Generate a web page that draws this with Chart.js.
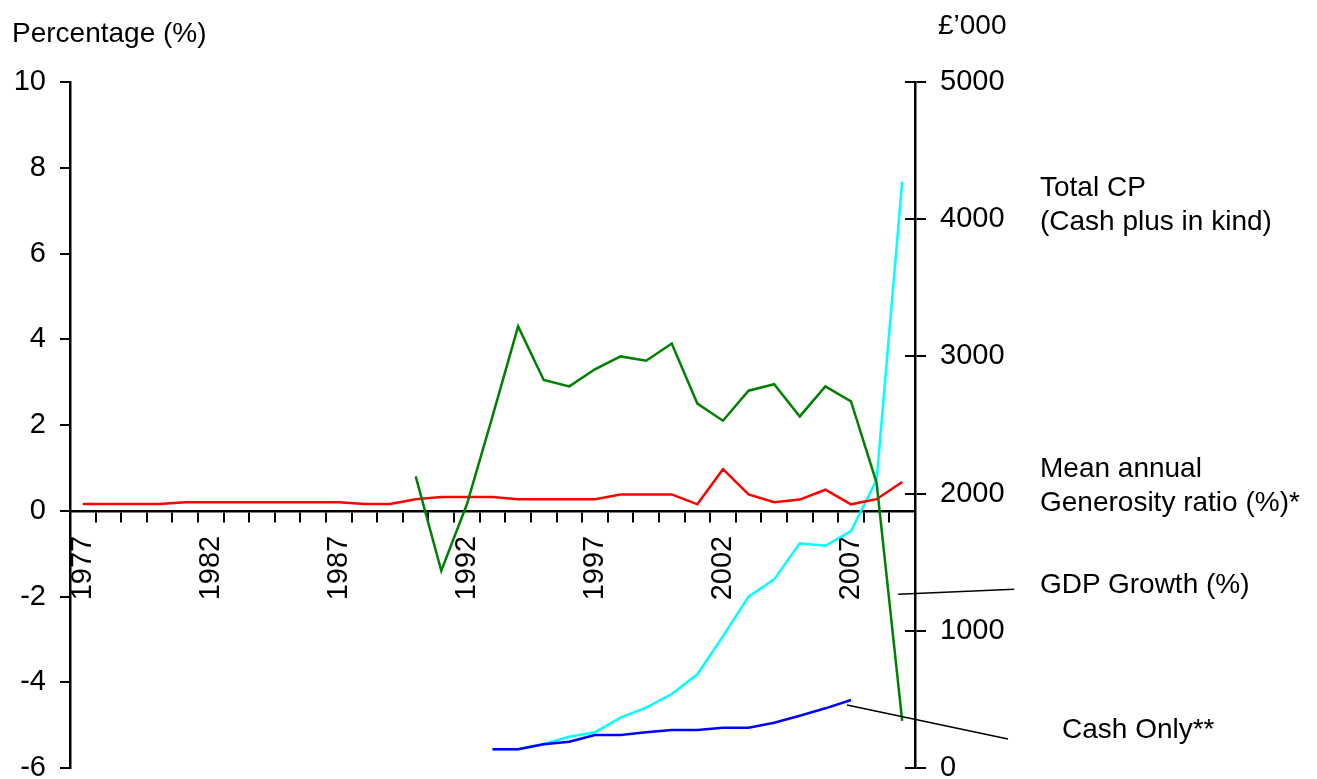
<!DOCTYPE html>
<html>
<head>
<meta charset="utf-8">
<script src="https://cdn.jsdelivr.net/npm/chart.js@4"></script>
<style>
	body { margin: 0; background: #fff; }
	.wrap { position: relative; width: 1317px; height: 779px; }
	.note {
		position: absolute;
		font-family: 'Liberation Sans', Arial, sans-serif;
		font-size: 28px;
		line-height: 34px;
		color: #000;
		white-space: nowrap;
	}
</style>
</head>
<body>
<div class="wrap">
	<canvas id="chart" width="1317" height="779"></canvas>
	<div class="note" style="left:12px; top:16px;">Percentage (%)</div>
	<div class="note" style="left:938px; top:8px;">£’000</div>
	<div class="note" style="left:1040px; top:170px;">Total CP<br>(Cash plus in kind)</div>
	<div class="note" style="left:1040px; top:451px;">Mean annual<br>Generosity ratio (%)*</div>
	<div class="note" style="left:1040px; top:567px;">GDP Growth (%)</div>
	<div class="note" style="left:1062px; top:712px;">Cash Only**</div>
</div>
<script>
const years = ['1977', '1978', '1979', '1980', '1981', '1982', '1983', '1984', '1985', '1986', '1987',
	'1988', '1989', '1990', '1991', '1992', '1993', '1994', '1995', '1996', '1997', '1998', '1999',
	'2000', '2001', '2002', '2003', '2004', '2005', '2006', '2007', '2008', '2009'];
const yearLabels = ['1977', '1982', '1987', '1992', '1997', '2002', '2007'];

// left axis (%)
const generosity = [0.16, 0.16, 0.16, 0.16, 0.2, 0.2, 0.2, 0.2, 0.2, 0.2, 0.2,
	0.16, 0.16, 0.27, 0.32, 0.32, 0.32, 0.27, 0.27, 0.27, 0.27, 0.38, 0.38,
	0.38, 0.15, 0.97, 0.38, 0.2, 0.26, 0.49, 0.15, 0.27, 0.67];
const gdpGrowth = [null, null, null, null, null, null, null, null, null, null, null,
	null, null, 0.8, -1.4, 0.15, 2.2, 4.3, 3.05, 2.9, 3.3, 3.6, 3.5,
	3.9, 2.5, 2.1, 2.8, 2.95, 2.2, 2.9, 2.55, 0.65, -4.9];

// right axis (£'000)
const totalCP = [null, null, null, null, null, null, null, null, null, null, null,
	null, null, null, null, null, 136, 136, 175, 228, 260, 367, 440,
	539, 683, 960, 1249, 1375, 1638, 1620, 1727, 2100, 4274];
const cashOnly = [null, null, null, null, null, null, null, null, null, null, null,
	null, null, null, null, null, 136, 136, 173, 192, 240, 240, 260,
	277, 277, 294, 294, 330, 381, 435, 496, null, null];

const font = { family: "'Liberation Sans', Arial, sans-serif", size: 29 };

// inward half of the right axis ticks + the two leader lines
const extras = {
	id: 'extras',
	afterDraw(chart) {
		const ctx = chart.ctx;
		const x = chart.scales.x;
		const yl = chart.scales.y;
		const yr = chart.scales.y2;
		ctx.save();
		ctx.strokeStyle = '#000';
		ctx.lineWidth = 2;
		ctx.beginPath();
		yr.ticks.forEach((t) => {
			const py = Math.round(yr.getPixelForValue(t.value));
			ctx.moveTo(yr.left - 10, py);
			ctx.lineTo(yr.left, py);
		});
		ctx.stroke();

		ctx.lineWidth = 1.5;
		ctx.beginPath();
		const gx = x.getPixelForValue(32) - 4;
		const gy = yl.getPixelForValue(-1.95);
		ctx.moveTo(gx, gy);
		ctx.lineTo(gx + 116, gy - 5);
		const cx = x.getPixelForValue(30) - 4;
		const cy = yr.getPixelForValue(496) + 5;
		ctx.moveTo(cx, cy);
		ctx.lineTo(cx + 161, cy + 34);
		ctx.stroke();
		ctx.restore();
	},
};

const line = (data, color, axis, order) => ({
	data: data,
	borderColor: color,
	borderWidth: 2.5,
	pointRadius: 0,
	tension: 0,
	fill: false,
	yAxisID: axis,
	order: order,
});

new Chart(document.getElementById('chart'), {
	type: 'line',
	data: {
		labels: years,
		datasets: [
			line(totalCP, '#00ffff', 'y2', 3),
			line(cashOnly, '#0000ff', 'y2', 2),
			line(generosity, '#ff0000', 'y', 1),
			line(gdpGrowth, '#008000', 'y', 0),
		],
	},
	options: {
		responsive: false,
		animation: false,
		devicePixelRatio: 1,
		layout: { padding: { top: 82, bottom: 11, left: 0, right: 0 } },
		plugins: { legend: { display: false }, tooltip: { enabled: false } },
		scales: {
			x: {
				type: 'category',
				offset: true,
				position: { y: 0 },
				grid: { offset: true, drawOnChartArea: false, tickLength: 10, color: '#000', lineWidth: 2 },
				border: { color: '#000', width: 2.5 },
				ticks: {
					autoSkip: false,
					minRotation: 90,
					maxRotation: 90,
					padding: 15,
					color: '#000',
					font: font,
					callback: (v, i) => (yearLabels.includes(years[i]) ? years[i] : ''),
				},
				afterFit(s) {
					s.paddingLeft = 0;
					s.paddingRight = 0;
				},
			},
			y: {
				position: 'left',
				min: -6,
				max: 10,
				grid: { drawOnChartArea: false, tickLength: 10, color: '#000', lineWidth: 2 },
				border: { color: '#000', width: 2.5 },
				ticks: { stepSize: 2, padding: 14, color: '#000', font: font },
				afterFit(s) {
					s.width = 70;
					s.paddingTop = 0;
					s.paddingBottom = 0;
				},
			},
			y2: {
				position: 'right',
				min: 0,
				max: 5000,
				grid: { drawOnChartArea: false, tickLength: 11, color: '#000', lineWidth: 2 },
				border: { color: '#000', width: 2.5 },
				ticks: { stepSize: 1000, padding: 14, color: '#000', font: font, callback: (v) => String(v) },
				afterFit(s) {
					s.width = 402;
					s.paddingTop = 0;
					s.paddingBottom = 0;
				},
			},
		},
	},
	plugins: [extras],
});
</script>
</body>
</html>
